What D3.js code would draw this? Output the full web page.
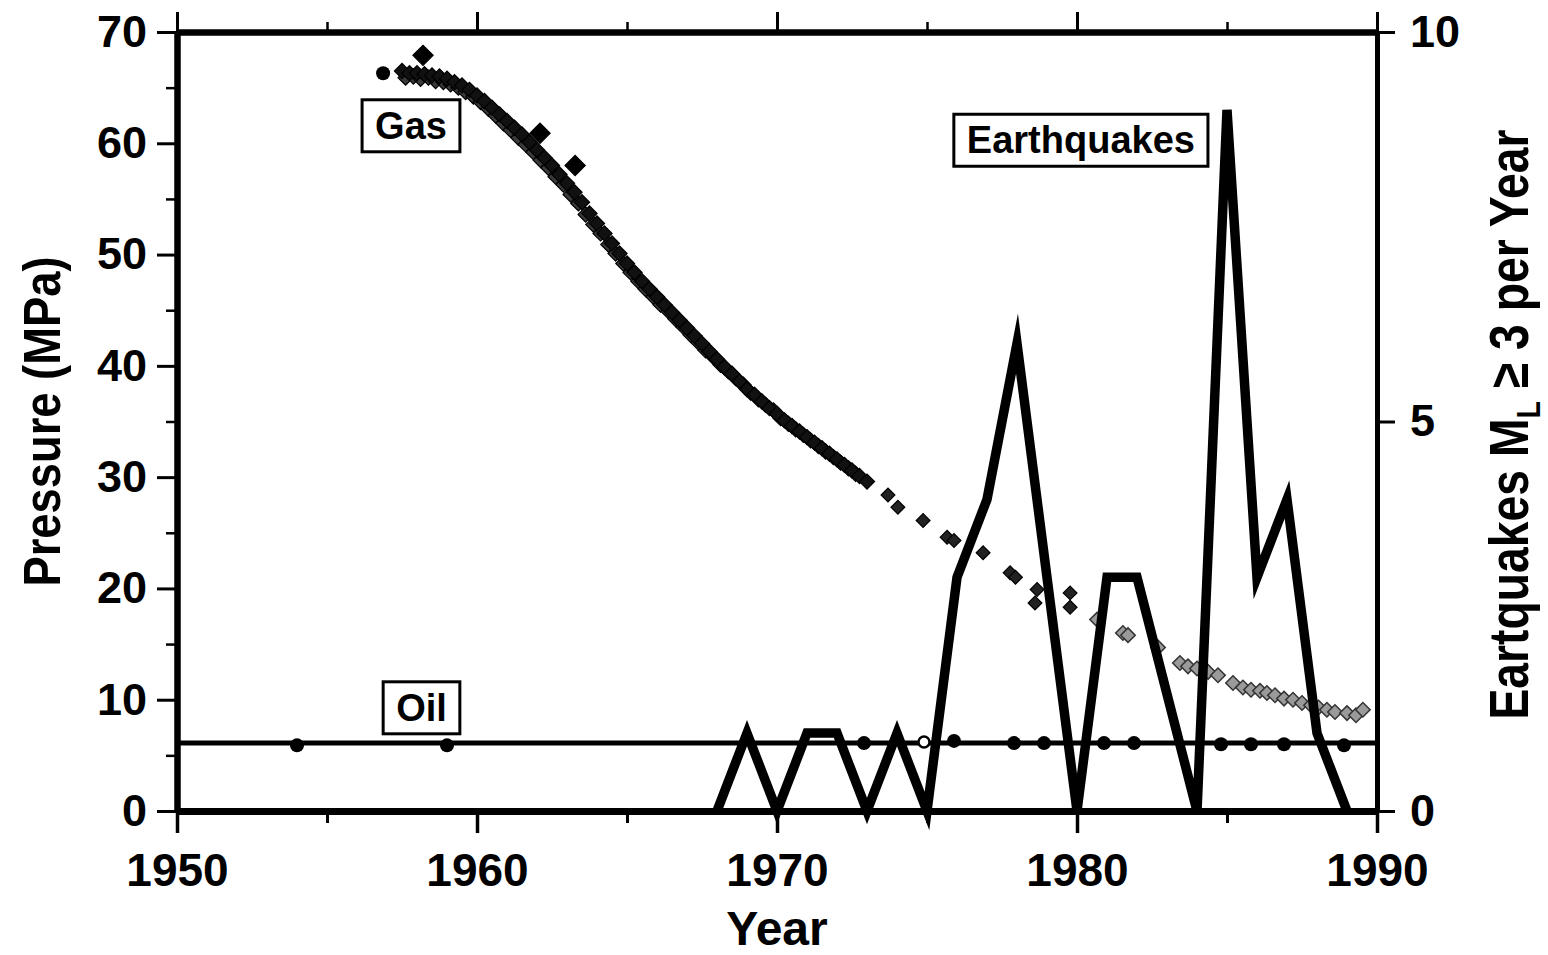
<!DOCTYPE html>
<html>
<head>
<meta charset="utf-8">
<script src="https://cdn.jsdelivr.net/npm/d3@7"></script>
<style>
  html, body { margin: 0; padding: 0; background: #fff; }
  svg { display: block; font-family: "Liberation Sans", Arial, Helvetica, sans-serif; }
</style>
</head>
<body>
<figure id="chart" style="margin:0"></figure>
<script>
// ---- data ----
// gas pressure (MPa), dense band of well readings, first set
const gasA = [
  [1957.5, 66.5], [1957.75, 66.3], [1958.0, 66.3], [1958.25, 66.2], [1958.5, 66.1], [1958.75, 66.0],
  [1959.0, 65.8], [1959.25, 65.5], [1959.5, 65.2], [1959.75, 64.8], [1960.0, 64.3], [1960.25, 63.8],
  [1960.5, 63.2], [1960.75, 62.6], [1961.0, 62.0], [1961.25, 61.4], [1961.5, 60.8], [1961.75, 60.1],
  [1962.0, 59.4], [1962.25, 58.7], [1962.5, 58.0], [1962.75, 57.2], [1963.0, 56.4], [1963.25, 55.6],
  [1963.5, 54.7], [1963.75, 53.7], [1964.0, 52.8], [1964.25, 51.9], [1964.5, 51.0], [1964.75, 50.1],
  [1965.0, 49.2], [1965.25, 48.4], [1965.5, 47.6], [1965.75, 46.9], [1966.0, 46.2], [1966.25, 45.5],
  [1966.5, 44.8], [1966.75, 44.1], [1967.0, 43.4], [1967.25, 42.7], [1967.5, 42.0], [1967.75, 41.3],
  [1968.0, 40.6], [1968.25, 39.9], [1968.5, 39.3], [1968.75, 38.6], [1969.0, 37.9], [1969.25, 37.4],
  [1969.5, 36.8], [1969.75, 36.2], [1970.0, 35.7], [1970.25, 35.1], [1970.5, 34.6], [1970.75, 34.1],
  [1971.0, 33.6], [1971.25, 33.1], [1971.5, 32.6], [1971.75, 32.1], [1972.0, 31.6], [1972.25, 31.1],
  [1972.5, 30.6], [1972.75, 30.1], [1973.0, 29.6]
];
// second set, slightly lower readings in the same band
const gasB = [
  [1957.62, 65.9], [1957.88, 66.0], [1958.12, 65.8], [1958.38, 65.9], [1958.62, 65.6], [1958.88, 65.5],
  [1959.12, 65.3], [1959.38, 65.0], [1959.62, 64.6], [1959.88, 64.2], [1960.12, 63.7], [1960.38, 63.1],
  [1960.62, 62.5], [1960.88, 61.8], [1961.12, 61.2], [1961.38, 60.5], [1961.62, 59.9], [1961.88, 59.2],
  [1962.12, 58.5], [1962.38, 57.8], [1962.62, 57.0], [1962.88, 56.3], [1963.12, 55.4], [1963.38, 54.6],
  [1963.62, 53.6], [1963.88, 52.7], [1964.12, 51.9], [1964.38, 50.9], [1964.62, 50.1], [1964.88, 49.2],
  [1965.12, 48.4], [1965.38, 47.6], [1965.62, 46.9], [1965.88, 46.2], [1966.12, 45.5], [1966.38, 44.9],
  [1966.62, 44.2], [1966.88, 43.5], [1967.12, 42.8], [1967.38, 42.1], [1967.62, 41.4], [1967.88, 40.8],
  [1968.12, 40.1], [1968.38, 39.5], [1968.62, 38.9], [1968.88, 38.3], [1969.12, 37.6], [1969.38, 37.0],
  [1969.62, 36.5], [1969.88, 36.0], [1970.12, 35.3], [1970.38, 34.8], [1970.62, 34.3], [1970.88, 33.8],
  [1971.12, 33.3], [1971.38, 32.8], [1971.62, 32.3], [1971.88, 31.8], [1972.12, 31.3], [1972.38, 30.8],
  [1972.62, 30.3]
];
// sparse later readings (dark)
const gasLate = [
  [1973.7, 28.4], [1974.03, 27.3], [1974.87, 26.1], [1975.67, 24.6], [1975.9, 24.3], [1976.87, 23.2],
  [1977.77, 21.4], [1977.95, 21.0], [1978.67, 19.9], [1978.6, 18.7], [1979.77, 19.6], [1979.77, 18.3]
];
// later readings (grey markers)
const gasGrey = [
  [1980.67, 17.2], [1981.53, 16.0], [1981.7, 15.8], [1982.7, 14.7], [1983.43, 13.3], [1983.7, 13.0],
  [1984.0, 12.8], [1984.37, 12.5], [1984.7, 12.2], [1985.2, 11.5], [1985.53, 11.1], [1985.8, 10.9],
  [1986.1, 10.8], [1986.33, 10.6], [1986.6, 10.4], [1986.9, 10.1], [1987.2, 10.0], [1987.5, 9.7],
  [1987.8, 9.5], [1988.05, 9.3], [1988.33, 9.1], [1988.6, 8.9], [1989.0, 8.8], [1989.3, 8.6], [1989.53, 9.1]
];
// isolated large markers
const gasDiamonds = [[1958.2, 67.9], [1962.1, 60.9], [1963.27, 58.0]];
const gasDots = [[1956.87, 66.3]];

// oil pressure (MPa)
const oilLine = [[1950, 6.1], [1990, 6.1]];
const oilDots = [
  [1954.0, 5.9], [1959.0, 5.9], [1972.9, 6.1], [1975.9, 6.3], [1977.9, 6.1], [1978.9, 6.1],
  [1980.9, 6.1], [1981.9, 6.1], [1984.8, 6.0], [1985.8, 6.0], [1986.9, 6.0], [1988.9, 5.9]
];
const oilOpen = [[1974.9, 6.2]];

// earthquakes ML >= 3 per year
const eqYears  = [1968, 1969, 1970, 1971, 1972, 1973, 1974, 1975, 1976, 1977, 1978, 1979, 1980, 1981, 1982, 1984, 1985, 1986, 1987, 1988, 1989];
const eqCounts = [0, 1, 0, 1, 1, 0, 1, 0, 3, 4, 6, 3, 0, 3, 3, 0, 9, 3, 4, 1, 0];

// ticks
const xMajor = [1950, 1960, 1970, 1980, 1990];
const xMinor = [1955, 1965, 1975, 1985];
const yMajor = [0, 10, 20, 30, 40, 50, 60, 70];
const yMinor = [5, 15, 25, 35, 45, 55, 65];
const eqTicks = [0, 5, 10];

// ---- layout ----
const margin = { top: 32, right: 171, bottom: 144, left: 177 };
const width = 1548 - margin.left - margin.right;
const height = 955 - margin.top - margin.bottom;

const svg = d3.select("#chart").append("svg")
  .attr("width", 1548)
  .attr("height", 955)
  .append("g")
  .attr("transform", `translate(${margin.left},${margin.top})`);

const x = d3.scaleLinear().domain([1950, 1990]).range([0, width]);
const y = d3.scaleLinear().domain([0, 70]).range([height, 0]);
const yEq = d3.scaleLinear().domain([0, 10]).range([height, 0]);

const diamond = d3.symbol().type(d3.symbolSquare);

function drawDiamonds(data, size, fill, stroke, sw) {
  svg.append("g").selectAll("path")
    .data(data)
    .enter()
    .append("path")
    .attr("d", diamond.size(size)())
    .attr("transform", d => `translate(${x(d[0])},${y(d[1])}) rotate(45)`)
    .attr("fill", fill)
    .attr("stroke", stroke)
    .attr("stroke-width", sw);
}

// gas
drawDiamonds(gasB, 115, "#3a3a3a", "#000", 1.2);
drawDiamonds(gasA, 115, "#111", "#000", 1.2);
drawDiamonds(gasLate, 95, "#222", "#000", 1.2);
drawDiamonds(gasGrey, 105, "#9a9a9a", "#333", 1.5);
drawDiamonds(gasDiamonds, 210, "#000", "#000", 1);
svg.append("g").selectAll("circle")
  .data(gasDots)
  .enter()
  .append("circle")
  .attr("cx", d => x(d[0]))
  .attr("cy", d => y(d[1]))
  .attr("r", 7)
  .attr("fill", "#000");

// oil
svg.append("path")
  .datum(oilLine)
  .attr("fill", "none")
  .attr("stroke", "#000")
  .attr("stroke-width", 5)
  .attr("d", d3.line().x(d => x(d[0])).y(d => y(d[1])));
svg.append("g").selectAll("circle")
  .data(oilDots)
  .enter()
  .append("circle")
  .attr("cx", d => x(d[0]))
  .attr("cy", d => y(d[1]))
  .attr("r", 7)
  .attr("fill", "#000");
svg.append("g").selectAll("circle")
  .data(oilOpen)
  .enter()
  .append("circle")
  .attr("cx", d => x(d[0]))
  .attr("cy", d => y(d[1]))
  .attr("r", 5.5)
  .attr("fill", "#fff")
  .attr("stroke", "#000")
  .attr("stroke-width", 2.5);

// earthquakes
const eqData = eqYears.map((yr, i) => [yr, eqCounts[i]]);
svg.append("path")
  .datum(eqData)
  .attr("fill", "none")
  .attr("stroke", "#000")
  .attr("stroke-width", 9.5)
  .attr("stroke-linejoin", "miter")
  .attr("stroke-miterlimit", 6.5)
  .attr("d", d3.line().x(d => x(d[0])).y(d => yEq(d[1])));

// ---- axes ----
function styleAxis(g, domainWidth, tickWidth, fontSize) {
  g.attr("font-family", null).attr("font-size", fontSize).attr("font-weight", "bold");
  g.select(".domain").attr("stroke-width", domainWidth).attr("stroke", "#000");
  g.selectAll(".tick line").attr("stroke-width", tickWidth).attr("stroke", "#000");
  g.selectAll(".tick text").attr("fill", "#000");
}

// bottom
svg.append("g")
  .attr("transform", `translate(0,${height})`)
  .call(d3.axisBottom(x).tickValues(xMinor).tickSize(12).tickSizeOuter(0).tickFormat(""))
  .call(g => styleAxis(g, 7, 3, 46));
svg.append("g")
  .attr("transform", `translate(0,${height})`)
  .call(d3.axisBottom(x).tickValues(xMajor).tickSize(22).tickSizeOuter(0).tickPadding(20).tickFormat(d3.format("d")))
  .call(g => styleAxis(g, 7, 3.5, 46));

// top
svg.append("g")
  .call(d3.axisTop(x).tickValues(xMinor).tickSize(10).tickSizeOuter(0).tickFormat(""))
  .call(g => styleAxis(g, 6, 2.5, 46));
svg.append("g")
  .call(d3.axisTop(x).tickValues(xMajor).tickSize(20).tickSizeOuter(0).tickFormat(""))
  .call(g => styleAxis(g, 6, 3, 46));

// left
svg.append("g")
  .call(d3.axisLeft(y).tickValues(yMinor).tickSize(11).tickSizeOuter(0).tickFormat(""))
  .call(g => styleAxis(g, 6, 2.5, 45));
svg.append("g")
  .call(d3.axisLeft(y).tickValues(yMajor).tickSize(20).tickSizeOuter(0).tickPadding(10))
  .call(g => styleAxis(g, 6, 3, 45));

// right
svg.append("g")
  .attr("transform", `translate(${width},0)`)
  .call(d3.axisRight(yEq).tickValues(eqTicks).tickSize(18).tickSizeOuter(0).tickPadding(15))
  .call(g => styleAxis(g, 5, 3, 45));

// ---- axis titles ----
svg.append("text")
  .attr("x", x(1970))
  .attr("y", height + 134)
  .attr("text-anchor", "middle")
  .attr("font-size", 48)
  .attr("font-weight", "bold")
  .text("Year");

svg.append("text")
  .attr("transform", `translate(${-margin.left + 60},${height / 2}) rotate(-90)`)
  .attr("text-anchor", "middle")
  .attr("font-size", 52)
  .attr("font-weight", "bold")
  .attr("textLength", 330)
  .attr("lengthAdjust", "spacingAndGlyphs")
  .text("Pressure (MPa)");

const rt = svg.append("text")
  .attr("transform", `translate(${width + 151},${height / 2 + 3}) rotate(-90)`)
  .attr("text-anchor", "middle")
  .attr("font-size", 55)
  .attr("font-weight", "bold")
  .attr("textLength", 590)
  .attr("lengthAdjust", "spacingAndGlyphs");
rt.append("tspan").text("Eartquakes M");
rt.append("tspan").attr("font-size", 34).attr("dy", 12).text("L");
rt.append("tspan").attr("dy", -12).text(" \u2265 3 per Year");

// ---- boxed labels ----
function boxLabel(label, yr, mpa) {
  const g = svg.append("g").attr("transform", `translate(${x(yr)},${y(mpa)})`);
  const t = g.append("text")
    .attr("text-anchor", "middle")
    .attr("dy", "0.35em")
    .attr("font-size", 38)
    .attr("font-weight", "bold")
    .text(label);
  const bb = t.node().getBBox();
  g.insert("rect", "text")
    .attr("x", bb.x - 13)
    .attr("y", bb.y - 5)
    .attr("width", bb.width + 26)
    .attr("height", bb.height + 10)
    .attr("fill", "#fff")
    .attr("stroke", "#000")
    .attr("stroke-width", 3);
}
boxLabel("Gas", 1957.8, 61.6);
boxLabel("Oil", 1958.15, 9.3);
boxLabel("Earthquakes", 1980.13, 60.3);
</script>
</body>
</html>
